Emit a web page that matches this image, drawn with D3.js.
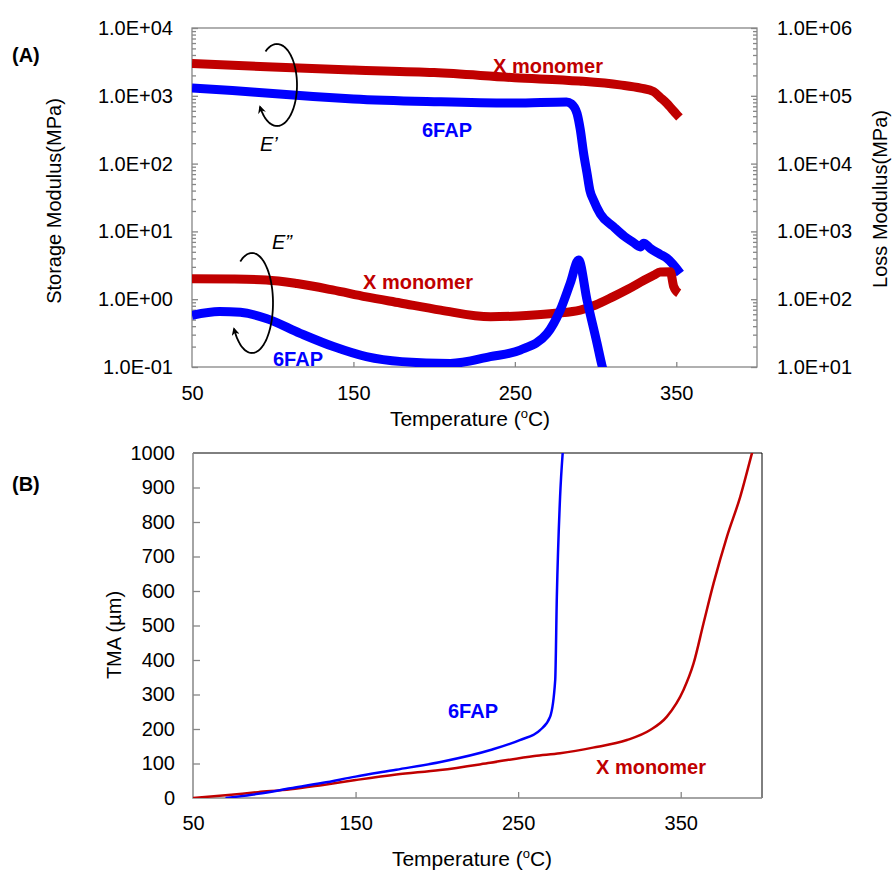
<!DOCTYPE html>
<html>
<head>
<meta charset="UTF-8">
<title>DMA and TMA curves</title>
<script src="https://cdn.jsdelivr.net/npm/d3@7"></script>
<style>
  body { margin: 0; background: #fff; }
  svg { display: block; font-family: Arial, "Liberation Sans", sans-serif; }
  .axis path { display: none; }
  .axis line { stroke: #868686; stroke-width: 1.3; }
  .axis text { font-size: 20px; fill: #000; }
</style>
</head>
<body>
<div id="chart"></div>
<script>
// (A) DMA, temperature in degC
// storage modulus E' (left axis, MPa)
const ePrimeMonomer = [[50,3000],[100,2650],[150,2400],[200,2200],[250,1850],[290,1650],[315,1450],[328,1300],
  [336,1150],[340,950],[344,780],[347,650],[350,540],[352,480]];
const ePrime6FAP = [[50,1300],[75,1200],[100,1080],[125,980],[150,900],[200,820],[250,780],[282,810],[285,760],
  [288.5,550],[290.5,320],[292.6,141],[294.7,72],[296.5,40],[298.7,29],[303,18],[311,11.8],[318,8.4],[323,7],
  [327.7,5.9],[329.8,6.7],[334,5.6],[340,4.6],[344.3,4.0],[352.5,2.4]];
// loss modulus E'' (right axis, MPa)
const eLossMonomer = [[50,200],[75,198],[96,192],[115,170],[137,137],[158,108],[179,88],[204,69],[235,55],[259.5,58],
  [275,62],[290.5,69],[300,82],[311,109],[320,140],[330,190],[336,225],[340.1,252],[346.3,255],[348.4,153],[351.5,122]];
const eLoss6FAP = [[50,58],[67,66],[80,64],[96,52],[117,31.4],[137.6,20],[158,14.2],[180,12],[210,11.3],[234.7,14.2],
  [253.3,17.8],[269.9,31],[278.1,69],[284.3,172],[289.5,378],[294.7,97],[300.9,22.4],[303.9,10.7],[306,7]];

// (B) TMA, um
const tma6FAP = [[70,0],[90,12],[110,28],[130,44],[150,62],[175,82],[203,105],[233,139],[251,168],[263.5,197],
  [269.7,236],[272.8,342],[273.8,583],[275.8,873],[277.4,1000]];
const tmaMonomer = [[50,0],[70,8],[90,17],[110,25],[130,38],[150,52],[175,68],[202,81],[232.8,102],[260,122],
  [275.8,130],[296,146],[316.9,168],[331.2,197],[341.5,236],[351.7,313],[357.9,390],[364,506],[370.2,622],
  [378.4,757],[386.6,873],[393.8,999],[395,1020]];

const tempTicks = [50, 150, 250, 350];
const leftMajors = [0.1, 1, 10, 100, 1000, 10000];
const rightMajors = [10, 100, 1000, 10000, 100000, 1000000];
const tmaTicks = d3.range(0, 1001, 100);

const red = "#c00000", blue = "#0000ff", gray = "#868686";

function minorsOf(majors) {
  const out = [];
  majors.slice(0, -1).forEach(m => { for (let k = 2; k < 10; k++) out.push(m * k); });
  return out;
}
function fmtE(v) {
  const e = Math.round(Math.log10(v));
  return "1.0E" + (e < 0 ? "-" : "+") + String(Math.abs(e)).padStart(2, "0");
}

const svg = d3.select("#chart").append("svg")
  .attr("width", 893).attr("height", 870);

const defs = svg.append("defs");
defs.append("marker").attr("id", "arrow")
  .attr("viewBox", "0 0 10 10").attr("refX", 8).attr("refY", 5)
  .attr("markerWidth", 4.5).attr("markerHeight", 4.5).attr("orient", "auto")
  .append("path").attr("d", "M0,0 L10,5 L0,10 L3,5 Z").attr("fill", "#000");

// ---------- panel A ----------
const xA = d3.scaleLinear().domain([50, 400]).range([192, 757]);
const yL = d3.scaleLog().domain([0.1, 1e4]).range([367, 28]);
const yR = d3.scaleLog().domain([10, 1e6]).range([367, 28]);

defs.append("clipPath").attr("id", "clipA").append("rect")
  .attr("x", 192).attr("y", 28).attr("width", 565).attr("height", 339);

const pA = svg.append("g");

pA.append("g").attr("class", "axis").attr("transform", "translate(0,367)")
  .call(d3.axisBottom(xA).tickValues(tempTicks).tickSize(-5).tickPadding(19))
  .selectAll(".tick line").filter(d => d === 50).remove();

pA.append("g").attr("class", "axis").attr("transform", "translate(192,0)")
  .call(d3.axisLeft(yL).tickValues(leftMajors).tickFormat(fmtE).tickSize(-6).tickPadding(19));
pA.append("g").attr("class", "axis").attr("transform", "translate(192,0)")
  .call(d3.axisLeft(yL).tickValues(minorsOf(leftMajors)).tickFormat("").tickSize(-4));

pA.append("g").attr("class", "axis").attr("transform", "translate(757,0)")
  .call(d3.axisRight(yR).tickValues(rightMajors).tickFormat(fmtE).tickSize(-6).tickPadding(20));
pA.append("g").attr("class", "axis").attr("transform", "translate(757,0)")
  .call(d3.axisRight(yR).tickValues(minorsOf(rightMajors)).tickFormat("").tickSize(-4));

pA.append("rect").attr("x", 192).attr("y", 28).attr("width", 565).attr("height", 339)
  .attr("fill", "none").attr("stroke", gray).attr("stroke-width", 1.3);

const lineL = d3.line().x(d => xA(d[0])).y(d => yL(d[1])).curve(d3.curveMonotoneX);
const lineR = d3.line().x(d => xA(d[0])).y(d => yR(d[1])).curve(d3.curveMonotoneX);

const curvesA = pA.append("g").attr("clip-path", "url(#clipA)");
[[ePrimeMonomer, lineL, red], [ePrime6FAP, lineL, blue], [eLossMonomer, lineR, red], [eLoss6FAP, lineR, blue]]
  .forEach(([data, gen, col]) => {
    curvesA.append("path").attr("d", gen(data))
      .attr("fill", "none").attr("stroke", col).attr("stroke-width", 9);
  });

// ---------- panel B ----------
const xB = d3.scaleLinear().domain([50, 400]).range([193, 762]);
const yB = d3.scaleLinear().domain([0, 1000]).range([798, 453]);

defs.append("clipPath").attr("id", "clipB").append("rect")
  .attr("x", 193).attr("y", 453).attr("width", 569).attr("height", 345);

const pB = svg.append("g");

pB.append("g").attr("class", "axis").attr("transform", "translate(0,798)")
  .call(d3.axisBottom(xB).tickValues(tempTicks).tickSize(-6).tickPadding(18))
  .selectAll(".tick line").filter(d => d === 50).remove();
pB.append("g").attr("class", "axis").attr("transform", "translate(193,0)")
  .call(d3.axisLeft(yB).tickValues(tmaTicks).tickFormat(d3.format("d")).tickSize(-7).tickPadding(18))
  .selectAll(".tick line").filter(d => d === 0 || d === 1000).remove();

pB.append("path").attr("d", "M762,798 L762,453 L193,453")
  .attr("fill", "none").attr("stroke", "#000").attr("stroke-width", 1);
pB.append("path").attr("d", "M193,453 L193,798 L762,798")
  .attr("fill", "none").attr("stroke", gray).attr("stroke-width", 1.5);

const lineB = d3.line().x(d => xB(d[0])).y(d => yB(d[1])).curve(d3.curveMonotoneX);
const curvesB = pB.append("g").attr("clip-path", "url(#clipB)");
curvesB.append("path").attr("d", lineB(tmaMonomer))
  .attr("fill", "none").attr("stroke", red).attr("stroke-width", 2.5);
curvesB.append("path").attr("d", lineB(tma6FAP))
  .attr("fill", "none").attr("stroke", blue).attr("stroke-width", 2.5);

// ---------- text ----------
function label(x, y, txt, opts = {}) {
  return svg.append("text").attr("x", x).attr("y", y)
    .attr("font-size", opts.size || 20)
    .attr("font-weight", opts.bold ? "bold" : null)
    .attr("font-style", opts.italic ? "italic" : null)
    .attr("fill", opts.fill || "#000")
    .attr("text-anchor", opts.anchor || "start")
    .text(txt);
}

label(12, 62, "(A)", { bold: true });
label(12, 491, "(B)", { bold: true });

function tempTitle(x, y) {
  const t = svg.append("text").attr("x", x).attr("y", y).attr("font-size", 21)
    .attr("text-anchor", "middle");
  t.append("tspan").text("Temperature (");
  t.append("tspan").attr("font-size", 13).attr("dy", -8).text("o");
  t.append("tspan").attr("dy", 8).text("C)");
}
tempTitle(470, 426);
tempTitle(472, 866);

svg.append("text").attr("transform", "translate(61,201) rotate(-90)")
  .attr("text-anchor", "middle").attr("font-size", 20).text("Storage Modulus(MPa)");
svg.append("text").attr("transform", "translate(887,199) rotate(-90)")
  .attr("text-anchor", "middle").attr("font-size", 20).text("Loss Modulus(MPa)");
svg.append("text").attr("transform", "translate(121,635) rotate(-90)")
  .attr("text-anchor", "middle").attr("font-size", 20).text("TMA (\u00b5m)");

label(493, 73, "X monomer", { bold: true, fill: red });
label(422, 137, "6FAP", { bold: true, fill: blue });
label(363, 289, "X monomer", { bold: true, fill: red });
label(273, 366, "6FAP", { bold: true, fill: blue });
label(448, 718, "6FAP", { bold: true, fill: blue });
label(596, 774, "X monomer", { bold: true, fill: red });

label(260, 151, "E\u2019", { italic: true });
label(272, 249, "E\u201d", { italic: true });

// rotation arrows around the E' and E'' pairs
const arrows = [
  { cx: 277, cy: 85, rx: 20, ry: 41, from: -125, to: 150 },
  { cx: 252, cy: 303, rx: 21, ry: 50, from: -124, to: 150 }
];
arrows.forEach(a => {
  const pts = d3.range(a.from, a.to + 0.1, 3).map(deg => {
    const t = deg * Math.PI / 180;
    return [a.cx + a.rx * Math.cos(t), a.cy + a.ry * Math.sin(t)];
  });
  svg.append("path").attr("d", d3.line().curve(d3.curveBasis)(pts))
    .attr("fill", "none").attr("stroke", "#000").attr("stroke-width", 1.8)
    .attr("marker-end", "url(#arrow)");
});
</script>
</body>
</html>
